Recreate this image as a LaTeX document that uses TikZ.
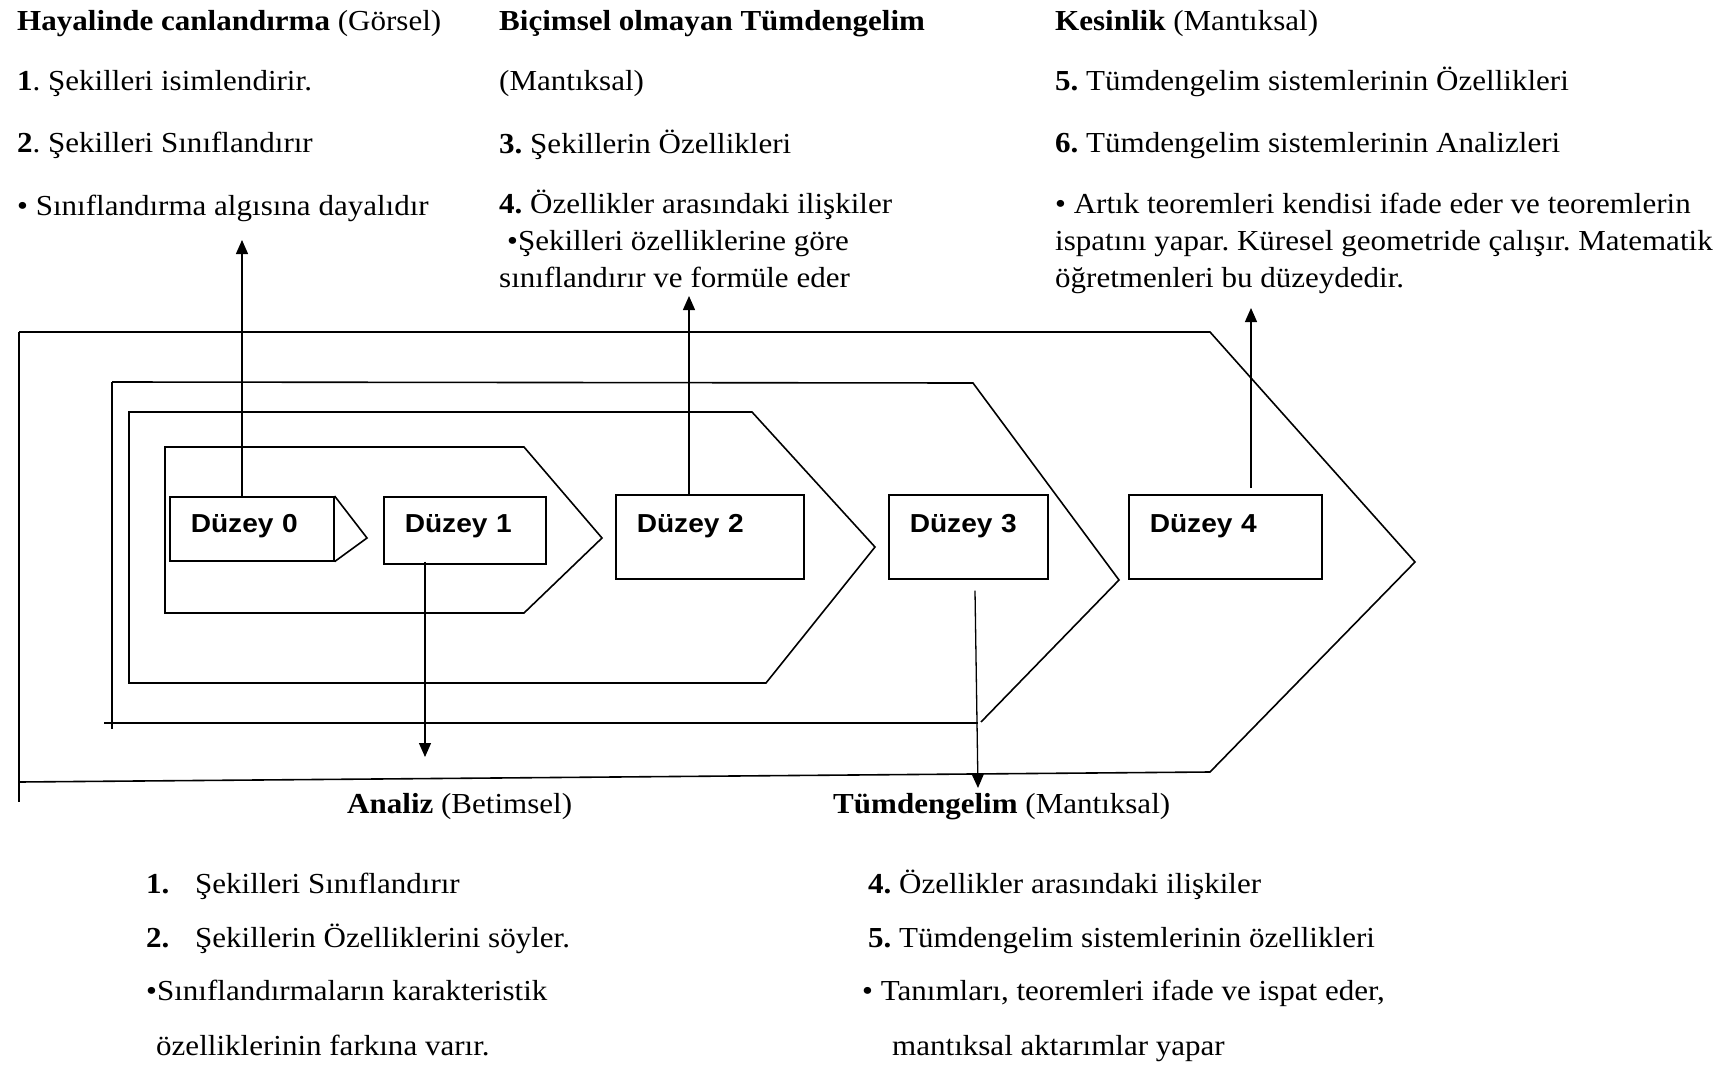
\documentclass[tikz,border=0pt]{standalone}
\usepackage{fontspec}
\setmainfont{Liberation Serif}[FakeStretch=1.07]
\newfontfamily\boxfamily{Liberation Sans}[FakeStretch=1.08]
\usetikzlibrary{arrows.meta,calc}
\frenchspacing

\newcommand\bodysize{\fontsize{29}{34}\selectfont}
\newcommand\boxsize{\fontsize{26}{30}\selectfont\boxfamily\bfseries}

\tikzset{
  txt/.style={anchor=base west, inner sep=0pt, font=\bodysize},
  frame/.style={line width=1.6pt, line join=miter},
  levelbox/.style={draw, line width=1.6pt, anchor=north west, align=left,
    inner xsep=21pt, inner ysep=0pt, font=\boxsize},
  arr/.style={line width=1.3pt, -{Triangle[length=14pt,width=12pt]}},
}

\begin{document}
\begin{tikzpicture}[x=1pt, y=-1pt]
\useasboundingbox (0,0) rectangle (1733,1065);

% ---- nested level frames ----
% outermost frame (level 4)
\draw[frame] (19,332) -- (1210,332) -- (1415,562) -- (1210,772) -- (19,782);
\draw[frame] (19,332) -- (19,802);
% level 3 frame
\draw[frame] (112,382) -- (973,383) -- (1119,580) -- (981,722);
\draw[frame] (104,723) -- (978,723);
\draw[frame] (112,382) -- (112,729);
% level 2 frame
\draw[frame] (129,412) -- (752,412) -- (875,547) -- (766,683) -- (129,683) -- cycle;
% level 1 frame
\draw[frame] (165,447) -- (524,447) -- (602,538) -- (524,613) -- (165,613) -- cycle;

% ---- level boxes ----
\node[levelbox, text width=122pt, text height=36pt, text depth=28pt] (d0) at (169,496) {Düzey 0};
\coordinate (d0tip) at (367,538);
\draw[frame] (d0.north east) -- (d0tip) -- (d0.south east);

\node[levelbox, text width=120pt, text height=36pt, text depth=31pt] (d1) at (383,496) {Düzey 1};
\node[levelbox, text width=146pt, text height=38pt, text depth=46pt] (d2) at (615,494) {Düzey 2};
\node[levelbox, text width=117pt, text height=38pt, text depth=46pt] (d3) at (888,494) {Düzey 3};
\node[levelbox, text width=151pt, text height=38pt, text depth=46pt] (d4) at (1128,494) {Düzey 4};

% ---- top texts ----
\node[txt] (h1) at (17,31) {\textbf{Hayalinde canlandırma} (Görsel)};
\node[txt] (h1a) at (17,90) {\textbf{1}. Şekilleri isimlendirir.};
\node[txt] (h1b) at (17,152) {\textbf{2}. Şekilleri Sınıflandırır};
\node[txt] (h1c) at (17,215) {• Sınıflandırma algısına dayalıdır};

\node[txt] (h2) at (499,31) {\textbf{Biçimsel olmayan Tümdengelim}};
\node[txt] (h2a) at (499,90) {(Mantıksal)};
\node[txt] (h2b) at (499,153) {\textbf{3.} Şekillerin Özellikleri};
\node[txt] (h2c) at (499,213) {\textbf{4.} Özellikler arasındaki ilişkiler};
\node[txt] (h2d) at (507,250) {•Şekilleri özelliklerine göre};
\node[txt] (h2e) at (499,287) {sınıflandırır ve formüle eder};

\node[txt] (h3) at (1055,31) {\textbf{Kesinlik} (Mantıksal)};
\node[txt] (h3a) at (1055,90) {\textbf{5.} Tümdengelim sistemlerinin Özellikleri};
\node[txt] (h3b) at (1055,152) {\textbf{6.} Tümdengelim sistemlerinin Analizleri};
\node[txt] (h3c) at (1055,213) {• Artık teoremleri kendisi ifade eder ve teoremlerin};
\node[txt] (h3d) at (1055,250) {ispatını yapar. Küresel geometride çalışır. Matematik};
\node[txt] (h3e) at (1055,287) {öğretmenleri bu düzeydedir.};

% ---- bottom texts ----
\node[txt] (b1) at (347,813) {\textbf{Analiz} (Betimsel)};
\node[txt] (b1a) at (146,893) {\makebox[49pt][l]{\textbf{1.}}Şekilleri Sınıflandırır};
\node[txt] (b1b) at (146,947) {\makebox[49pt][l]{\textbf{2.}}Şekillerin Özelliklerini söyler.};
\node[txt] (b1c) at (146,1000) {•Sınıflandırmaların karakteristik};
\node[txt] (b1d) at (156,1055) {özelliklerinin farkına varır.};

\node[txt] (b2) at (833,813) {\textbf{Tümdengelim} (Mantıksal)};
\node[txt] (b2a) at (868,893) {\textbf{4.} Özellikler arasındaki ilişkiler};
\node[txt] (b2b) at (868,947) {\textbf{5.} Tümdengelim sistemlerinin özellikleri};
\node[txt] (b2c) at (862,1000) {• Tanımları, teoremleri ifade ve ispat eder,};
\node[txt] (b2d) at (892,1055) {mantıksal aktarımlar yapar};

% ---- connectors ----
\coordinate (t0) at (242,240);
\coordinate (t2) at (689,296);
\coordinate (t4) at (1251,308);
\coordinate (t1) at (425,757);
\coordinate (t3) at (978,788);
\draw[arr] (d0.north -| t0) -- (t0);
\draw[arr] (d2.north -| t2) -- (t2);
\draw[arr] ($(d4.north -| t4)+(0,-6)$) -- (t4);
\draw[arr] ($(d1.south -| t1)+(0,-3)$) -- (t1);
\draw[arr] ($(d3.south west)+(87,11)$) -- (t3);
\end{tikzpicture}
\end{document}
